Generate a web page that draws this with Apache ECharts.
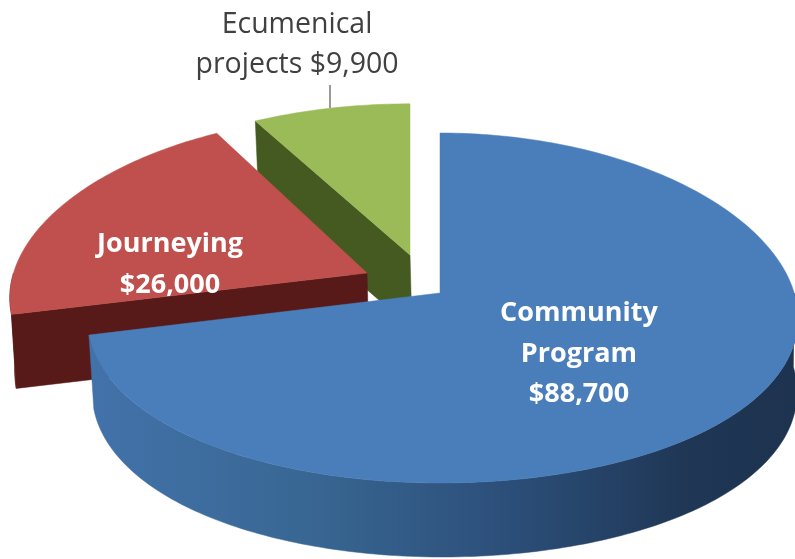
<!DOCTYPE html>
<html><head><meta charset="utf-8">
<style>html,body{margin:0;padding:0;background:#fff}#c{width:795px;height:559px}</style>
<script src="https://cdn.jsdelivr.net/npm/echarts@6/dist/echarts.min.js"></script>
</head><body><div id="c"></div>
<script>
const categories = ['Community Program', 'Journeying', 'Ecumenical projects'];
const values = [88700, 26000, 9900];
const valueLabels = ['$88,700', '$26,000', '$9,900'];

// Presentation only: where each exploded slice sits and how it is painted
const look = [
  {apex:[440,293], sx:1.012,sxl:0.997,sy:1,    z:30, top:'#4a7ebb', wall:'#000', label:[579,354], text:'Community\nProgram\n$88,700', color:'#fff', weight:'bold', size:27},
  {apex:[367,273], sx:1.01, sxl:1.01, sy:0.985,z:20, top:'#c0504d', wall:'#571a18', label:[170,265], text:'Journeying\n$26,000', color:'#fff', weight:'bold', size:27},
  {apex:[410,255], sx:1.04, sxl:1.04, sy:0.945,z:10, top:'#9bbb59', wall:'#445a20', label:[297,45], text:'Ecumenical\nprojects $9,900', color:'#404040', weight:'normal', size:28.5}
];
const R = 350, RY = 173.7, KX = 0.144, KY = 0.0857, DEPTH = 74, BOTTOM_X = 0.992, BOTTOM_SHIFT = 2;
const total = values.reduce((a, b) => a + b, 0);

function pt(s, deg, r, low) {
  const t = deg * Math.PI / 180, X = Math.sin(t) * r, Y = -Math.cos(t) * r;
  const x = X * R * (X < 0 ? s.sxl : s.sx) / (1 - KX * Y), y = Y * RY * s.sy / (1 - KY * Y);
  return low ? [s.apex[0] + x * BOTTOM_X + BOTTOM_SHIFT, s.apex[1] + y + DEPTH] : [s.apex[0] + x, s.apex[1] + y];
}
function arc(s, a, b, low) {
  const out = [], n = Math.max(2, Math.ceil(Math.abs(b - a)));
  for (let i = 0; i <= n; i++) out.push(pt(s, a + (b - a) * i / n, 1, low));
  return out;
}
function renderItem(params, api) {
  const i = params.dataIndex, s = look[i];
  let before = 0;
  for (let k = 0; k < i; k++) before += values[k];
  const a = before / total * 360, b = (before + api.value(0)) / total * 360;
  const kids = [];
  const poly = (points, fill, z) => kids.push({type:'polygon', shape:{points}, style:{fill, stroke:fill, lineWidth:0.5}, z2:z});
  // radial wall facing the viewer
  if (i > 0) poly([pt(s,a,0,false), pt(s,a,1,false), pt(s,a,1,true), pt(s,a,0,true)], s.wall, s.z);
  // rounded wall on the near half
  const wa = Math.max(a, 90), wb = Math.min(b, 270);
  if (wb > wa) {
    const fill = i === 0 ? {type:'linear', x:0, y:0, x2:1, y2:0, colorStops:[
      {offset:0, color:'#4272aa'},{offset:0.3, color:'#396794'},{offset:0.6, color:'#2b4e78'},{offset:0.85, color:'#1f3654'},{offset:1, color:'#1d3350'}]} : s.wall;
    poly(arc(s,wa,wb,false).concat(arc(s,wa,wb,true).reverse()), fill, s.z);
  }
  poly([pt(s,a,0,false)].concat(arc(s,a,b,false)), s.top, s.z + 1);
  kids.push({type:'text', z2:s.z + 5, style:{text:s.text, x:s.label[0], y:s.label[1], align:'center', verticalAlign:'middle',
    fill:s.color, font:s.weight + ' ' + s.size + 'px "Open Sans", sans-serif', lineHeight:40.5}});
  if (i === 2) {
    const p = pt(s, 345.5, 1, false);
    kids.push({type:'line', shape:{x1:p[0], y1:85, x2:p[0], y2:p[1]}, style:{stroke:'#9a9a9a', lineWidth:2}, z2:s.z});
  }
  return {type:'group', children:kids};
}
const chart = echarts.init(document.getElementById('c'), null, {renderer:'canvas'});
chart.setOption({
  animation:false,
  backgroundColor:'#fff',
  series:[{type:'custom', coordinateSystem:'none', renderItem,
    data:values.map((v, i) => ({name:categories[i], value:[v], label:valueLabels[i]}))}]
});
</script></body></html>
